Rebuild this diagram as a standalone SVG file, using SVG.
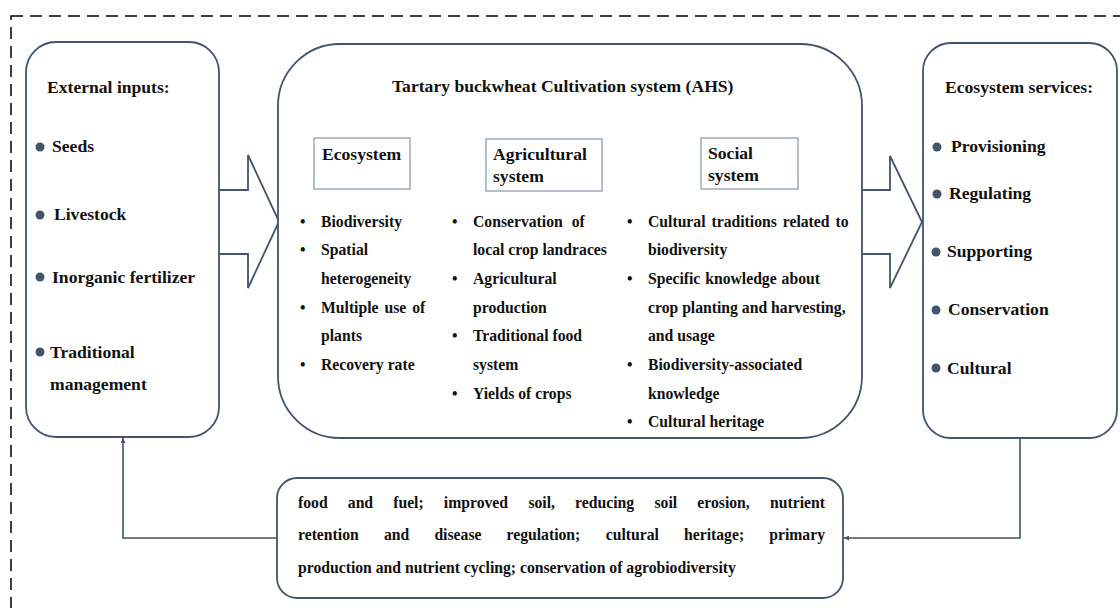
<svg xmlns="http://www.w3.org/2000/svg" width="1120" height="608" viewBox="0 0 1120 608">
<defs>
<style>
.box{fill:#fff;stroke:#44546A;stroke-width:1.8}
.sub{fill:#fff;stroke:#8497B0;stroke-width:1.2}
.t{font-family:"Liberation Serif","Times New Roman",serif;font-weight:bold;fill:#111}
.h{font-size:17.6px}
.i{font-size:15.7px}
.dot{fill:#44546A}
.con{fill:none;stroke:#44546A;stroke-width:1.6}
</style>
<marker id="ah" viewBox="0 0 10 10" refX="10" refY="5" markerWidth="5" markerHeight="5" orient="auto" markerUnits="userSpaceOnUse">
<path d="M0,0 L10,5 L0,10 z" fill="#44546A"/>
</marker>
</defs>
<rect width="1120" height="608" fill="#fff"/>
<rect x="11" y="16" width="1130" height="620" fill="none" stroke="#000" stroke-width="1.5" stroke-dasharray="12 7"/>

<g id="connectors">
<path class="con" d="M277,538 L123,538 L123,438" marker-end="url(#ah)"/>
<path class="con" d="M1020,438 L1020,538 L844,538" marker-end="url(#ah)"/>
</g>

<g id="arrow-left">
<path class="box" d="M219,190 L248,190 L248,155 L279,221.5 L248,288 L248,254 L219,254"/>
</g>
<g id="arrow-right">
<path class="box" d="M861,190 L890,190 L890,156 L922,222 L890,288 L890,254 L861,254"/>
</g>

<g id="external-inputs">
<rect class="box" x="26" y="42" width="193" height="395" rx="30" ry="30"/>
<text class="t h" x="47" y="93">External inputs:</text>
<circle class="dot" cx="40" cy="147" r="4.5"/>
<text class="t h" x="52" y="152">Seeds</text>
<circle class="dot" cx="40" cy="215" r="4.5"/>
<text class="t h" x="54" y="220">Livestock</text>
<circle class="dot" cx="40" cy="277" r="4.5"/>
<text class="t h" x="52" y="283">Inorganic fertilizer</text>
<circle class="dot" cx="40" cy="352" r="4.5"/>
<text class="t h" x="50" y="358">Traditional</text>
<text class="t h" x="50" y="390">management</text>
</g>

<g id="cultivation-system">
<rect class="box" x="278" y="44" width="584" height="394" rx="62" ry="62"/>
<text class="t h" x="392" y="92">Tartary buckwheat Cultivation system (AHS)</text>
</g>

<g id="ecosystem">
<rect class="sub" x="314" y="138" width="96" height="51"/>
<text class="t h" x="322" y="160">Ecosystem</text>
<g class="t i">
<text x="300" y="226.5">•</text><text x="321" y="226.5">Biodiversity</text>
<text x="300" y="255.2">•</text><text x="321" y="255.2">Spatial</text>
<text x="321" y="283.9">heterogeneity</text>
<text x="300" y="312.6">•</text><text x="321" y="312.6" word-spacing="2">Multiple use of</text>
<text x="321" y="341.3">plants</text>
<text x="300" y="370">•</text><text x="321" y="370">Recovery rate</text>
</g>
</g>

<g id="agricultural-system">
<rect class="sub" x="486" y="139" width="116" height="52"/>
<text class="t h" x="493" y="160">Agricultural</text>
<text class="t h" x="493" y="182">system</text>
<g class="t i">
<text x="452" y="226.5">•</text><text x="473" y="226.5" word-spacing="5">Conservation of</text>
<text x="473" y="255.2">local crop landraces</text>
<text x="452" y="283.9">•</text><text x="473" y="283.9">Agricultural</text>
<text x="473" y="312.6">production</text>
<text x="452" y="341.3">•</text><text x="473" y="341.3">Traditional food</text>
<text x="473" y="370">system</text>
<text x="452" y="398.7">•</text><text x="473" y="398.7">Yields of crops</text>
</g>
</g>

<g id="social-system">
<rect class="sub" x="701" y="138" width="97" height="51"/>
<text class="t h" x="708" y="159">Social</text>
<text class="t h" x="708" y="181">system</text>
<g class="t i">
<text x="627" y="226.5">•</text><text x="648" y="226.5" word-spacing="2">Cultural traditions related to</text>
<text x="648" y="255.2">biodiversity</text>
<text x="627" y="283.9">•</text><text x="648" y="283.9" word-spacing="1">Specific knowledge about</text>
<text x="648" y="312.6">crop planting and harvesting,</text>
<text x="648" y="341.3">and usage</text>
<text x="627" y="370">•</text><text x="648" y="370">Biodiversity-associated</text>
<text x="648" y="398.7">knowledge</text>
<text x="627" y="427.4">•</text><text x="648" y="427.4">Cultural heritage</text>
</g>
</g>

<g id="ecosystem-services">
<rect class="box" x="923" y="43" width="194" height="395" rx="28" ry="28"/>
<text class="t h" x="945" y="93">Ecosystem services:</text>
<circle class="dot" cx="937" cy="147" r="4.5"/>
<text class="t h" x="951" y="152">Provisioning</text>
<circle class="dot" cx="937" cy="194" r="4.5"/>
<text class="t h" x="949" y="199">Regulating</text>
<circle class="dot" cx="936" cy="252" r="4.5"/>
<text class="t h" x="947" y="257">Supporting</text>
<circle class="dot" cx="936" cy="310" r="4.5"/>
<text class="t h" x="948" y="315">Conservation</text>
<circle class="dot" cx="936" cy="368" r="4.5"/>
<text class="t h" x="947" y="374">Cultural</text>
</g>

<g id="services-detail">
<rect class="box" x="277" y="478" width="566" height="120" rx="20" ry="20"/>
<g class="t i">
<text y="508"><tspan x="298">food</tspan><tspan x="347.8">and</tspan><tspan x="393.2">fuel;</tspan><tspan x="443.8">improved</tspan><tspan x="528.4">soil,</tspan><tspan x="575.1">reducing</tspan><tspan x="654.5">soil</tspan><tspan x="697.3">erosion,</tspan></text>
<text y="508" x="825" text-anchor="end">nutrient</text>
<text y="540"><tspan x="298">retention</tspan><tspan x="384">and</tspan><tspan x="434.4">disease</tspan><tspan x="506.5">regulation;</tspan><tspan x="605.7">cultural</tspan><tspan x="684">heritage;</tspan></text>
<text y="540" x="825" text-anchor="end">primary</text>
<text x="298" y="573">production and nutrient cycling; conservation of agrobiodiversity</text>
</g>
</g>
</svg>
